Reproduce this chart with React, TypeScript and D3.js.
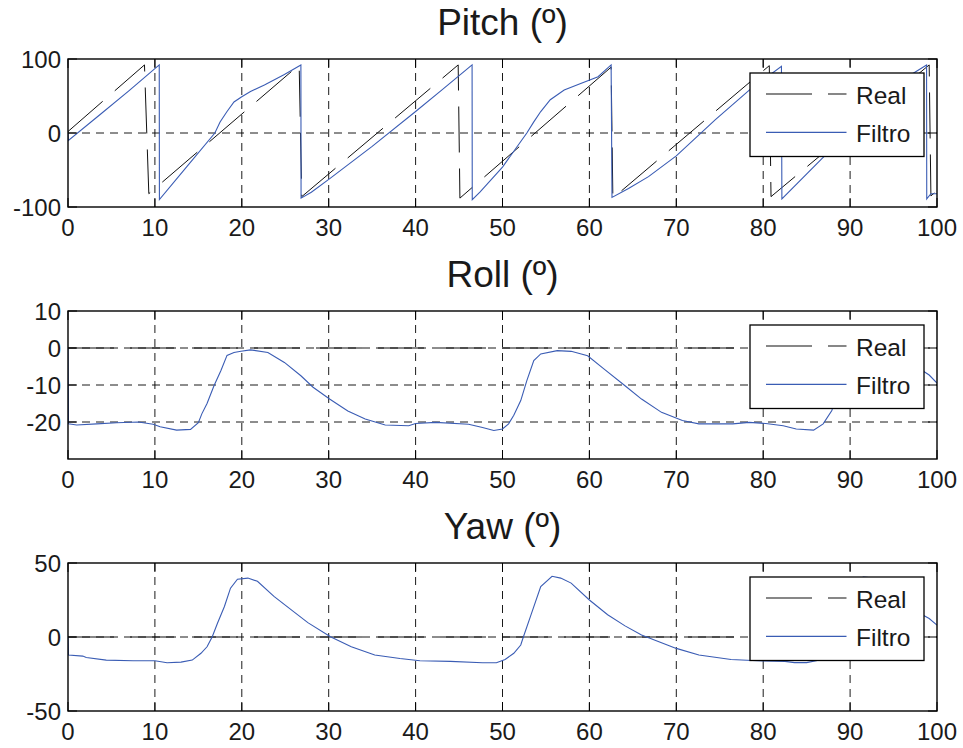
import * as d3 from 'd3';
import { useEffect, useRef } from 'react';

// x positions (s) / angle values
const xTicks = [0, 10, 20, 30, 40, 50, 60, 70, 80, 90, 100];

const pitchTicks = [-100, 0, 100];
const rollTicks = [-20, -10, 0, 10];
const yawTicks = [-50, 0, 50];

const pitchReal = [
  [0, 2], [8.8, 92], [9.3, -82], [26.6, 92], [26.9, -86], [44.9, 92], [45.1, -88],
  [62.5, 89], [62.7, -88], [80.7, 91], [80.9, -86], [99.1, 92], [99.3, -85], [100, -78],
];

const pitchFiltro = [
  [0, 0], [0.05, -10], [3.7, 25], [7, 57], [10.5, 92], [10.52, -90], [13.7, -45], [16.9, 0],
  [17.5, 15], [18.3, 29], [19.1, 42], [20, 49], [21, 56], [22.6, 65], [24.9, 79], [26.8, 92],
  [26.82, -88], [28, -80], [30.2, -61], [35, -18], [40, 29], [43, 58], [46.5, 92], [46.52, -90],
  [47.4, -80], [50, -46], [52.8, 0], [53.6, 15], [54.4, 29], [55.5, 45], [57.1, 58], [59, 67],
  [61, 76], [62.5, 92], [62.6, -87], [64.5, -75], [66.8, -59], [70, -31], [74.5, 18], [78.4, 58],
  [82.1, 90], [82.15, -89], [86.9, -33], [92, 25], [96.9, 78], [98.8, 92], [98.82, -89],
  [99.3, -82], [100, -82],
];

const rollReal = [[0, 0], [100, 0]];

const rollFiltro = [
  [0, 0], [0.05, -20.5], [1, -20.8], [3.3, -20.5], [5.6, -20.2], [8.1, -20], [9.8, -20.6],
  [10.6, -21.3], [12.5, -22.2], [14.1, -22], [15, -20.2], [15.4, -17.8], [16, -15], [16.8, -10.2],
  [17.6, -6.1], [18.3, -2], [19.1, -1.2], [19.9, -0.9], [21, -0.5], [23, -1.2], [24.9, -3.9],
  [26.8, -7.5], [28.2, -10.6], [30.1, -13.8], [32.2, -17], [34.2, -19.2], [36.5, -20.8],
  [39.2, -21], [40, -20.4], [42.3, -20.1], [46.1, -20.6], [47.7, -21.5], [49, -22.3], [50, -21.9],
  [50.7, -20.5], [51.3, -18.2], [52.1, -14.2], [52.8, -8.8], [53.6, -3.4], [54.4, -1.6],
  [56.3, -0.7], [57.9, -0.9], [59.8, -2.1], [61.7, -5.7], [64.1, -10.2], [66, -13.8],
  [68.3, -17.4], [70.7, -19.6], [72.6, -20.5], [76.5, -20.5], [78.4, -20.1], [80.3, -20.4],
  [82.3, -21], [83.8, -21.9], [85.8, -22.2], [86.9, -20.5], [87.9, -16.9], [88.6, -11],
  [89.4, -5], [90.3, -1.8], [92, -0.8], [93.8, -1], [95.7, -2.2], [97.6, -5], [99.1, -7.3],
  [100, -9.5],
];

const yawReal = [[0, 0], [100, 0]];

const yawFiltro = [
  [0, 0], [0.05, -12.2], [1.7, -12.9], [2.1, -13.8], [4.4, -15.6], [7.5, -16], [10, -16],
  [11.4, -17.4], [13, -17], [14.3, -15.6], [15.3, -11], [16, -6.6], [16.6, 0.2], [17.2, 9.3],
  [18, 20.6], [18.7, 33], [19.5, 39], [20.7, 39.8], [21.8, 37.6], [23.7, 27.4], [25.7, 18.3],
  [27.6, 9.7], [30.2, 0.2], [32.6, -6.6], [35.3, -12.2], [38.2, -14.5], [40.5, -16], [44, -16.5],
  [47.7, -17.4], [49.3, -17.4], [50.3, -15.2], [51.3, -11], [52.1, -5.4], [52.4, 0], [53.2, 13.6],
  [54.4, 34], [55.7, 41], [56.7, 39.8], [57.9, 36.4], [60, 25], [62.1, 15], [64.1, 7.5],
  [66, 1.4], [68, -3.2], [70, -7.7], [72.6, -12.2], [76.3, -15.2], [80, -16.2], [82.5, -16.5],
  [83.6, -17.3], [85, -17.3], [86.5, -15.5], [87.5, -11], [88.3, -3], [89, 8], [89.8, 22],
  [90.6, 35], [91.5, 40.5], [92.5, 40], [94, 34], [96, 24], [98, 16], [99.1, 12.5], [100, 8],
];

const legendLabels = ['Real', 'Filtro'];

const panels = [
  { id: 'pitch', title: 'Pitch (º)', top: 59, domain: [-100, 100], ticks: pitchTicks, real: pitchReal, filtro: pitchFiltro },
  { id: 'roll', title: 'Roll (º)', top: 311, domain: [-30, 10], ticks: rollTicks, real: rollReal, filtro: rollFiltro },
  { id: 'yaw', title: 'Yaw (º)', top: 563, domain: [-50, 50], ticks: yawTicks, real: yawReal, filtro: yawFiltro },
];

const W = 963;
const H = 748;
const LEFT = 68;
const RIGHT = 937;
const PANEL_H = 148;
const FONT = '"Liberation Sans", Arial, Helvetica, sans-serif';
const BLUE = '#3a5cb4';
const REAL_DASH = '46,16';
const GRID_DASH = '8,6';
const TICK_LEN = 9;

export default function App() {
  const ref = useRef(null);

  useEffect(() => {
    document.body.style.margin = '0';
    const svg = d3.select(ref.current);
    svg.selectAll('*').remove();
    svg.attr('width', W).attr('height', H).attr('viewBox', `0 0 ${W} ${H}`)
      .style('display', 'block').style('background', '#fff').style('font-family', FONT);

    const x = d3.scaleLinear().domain([0, 100]).range([LEFT, RIGHT]);

    panels.forEach((p) => {
      const top = p.top;
      const bottom = top + PANEL_H;
      const y = d3.scaleLinear().domain(p.domain).range([bottom, top]);
      const g = svg.append('g');

      const clipId = `clip-${p.id}`;
      g.append('clipPath').attr('id', clipId)
        .append('rect').attr('x', LEFT).attr('y', top).attr('width', RIGHT - LEFT).attr('height', PANEL_H);

      g.append('rect').attr('x', LEFT).attr('y', top).attr('width', RIGHT - LEFT).attr('height', PANEL_H)
        .attr('fill', '#fff');

      // grid
      g.selectAll('line.vgrid').data(xTicks.slice(1, -1)).enter().append('line')
        .attr('x1', (d) => x(d)).attr('x2', (d) => x(d)).attr('y1', top).attr('y2', bottom)
        .attr('stroke', '#000').attr('stroke-width', 0.9).attr('stroke-dasharray', GRID_DASH);
      g.selectAll('line.hgrid').data(p.ticks.filter((t) => y(t) > top + 1 && y(t) < bottom - 1)).enter().append('line')
        .attr('x1', LEFT).attr('x2', RIGHT).attr('y1', (d) => y(d)).attr('y2', (d) => y(d))
        .attr('stroke', '#000').attr('stroke-width', 0.9).attr('stroke-dasharray', GRID_DASH);

      const line = d3.line().x((d) => x(d[0])).y((d) => y(d[1]));
      const lines = g.append('g').attr('clip-path', `url(#${clipId})`);
      lines.append('path').attr('d', line(p.real)).attr('fill', 'none')
        .attr('stroke', '#111').attr('stroke-width', 1).attr('stroke-dasharray', REAL_DASH);
      lines.append('path').attr('d', line(p.filtro)).attr('fill', 'none')
        .attr('stroke', BLUE).attr('stroke-width', 1.1);

      // ticks inside the box
      xTicks.forEach((t) => {
        g.append('line').attr('x1', x(t)).attr('x2', x(t)).attr('y1', bottom).attr('y2', bottom - TICK_LEN)
          .attr('stroke', '#000').attr('stroke-width', 1);
        g.append('line').attr('x1', x(t)).attr('x2', x(t)).attr('y1', top).attr('y2', top + TICK_LEN)
          .attr('stroke', '#000').attr('stroke-width', 1);
      });
      p.ticks.forEach((t) => {
        g.append('line').attr('x1', LEFT).attr('x2', LEFT + TICK_LEN).attr('y1', y(t)).attr('y2', y(t))
          .attr('stroke', '#000').attr('stroke-width', 1);
        g.append('line').attr('x1', RIGHT).attr('x2', RIGHT - TICK_LEN).attr('y1', y(t)).attr('y2', y(t))
          .attr('stroke', '#000').attr('stroke-width', 1);
      });

      g.append('rect').attr('x', LEFT).attr('y', top).attr('width', RIGHT - LEFT).attr('height', PANEL_H)
        .attr('fill', 'none').attr('stroke', '#000').attr('stroke-width', 1.4);

      // tick labels
      g.selectAll('text.xt').data(xTicks).enter().append('text')
        .attr('x', (d) => x(d)).attr('y', bottom + 29).attr('text-anchor', 'middle')
        .style('font-size', '24px').style('fill', '#1a1a1a').text((d) => d);
      g.selectAll('text.yt').data(p.ticks).enter().append('text')
        .attr('x', LEFT - 7).attr('y', (d) => y(d) + 8.5).attr('text-anchor', 'end')
        .style('font-size', '24px').style('fill', '#1a1a1a').text((d) => d);

      g.append('text').attr('x', (LEFT + RIGHT) / 2).attr('y', top - 24).attr('text-anchor', 'middle')
        .style('font-size', '37px').style('fill', '#1a1a1a').text(p.title);

      // legend
      const lg = g.append('g').attr('transform', `translate(750,${top + 14})`);
      lg.append('rect').attr('width', 174).attr('height', 83.5).attr('fill', '#fff')
        .attr('stroke', '#000').attr('stroke-width', 1.3);
      legendLabels.forEach((label, i) => {
        const ly = i === 0 ? 21 : 59.4;
        lg.append('line').attr('x1', 16).attr('x2', 96.5).attr('y1', ly).attr('y2', ly)
          .attr('stroke', i === 0 ? '#111' : BLUE).attr('stroke-width', 1.1)
          .attr('stroke-dasharray', i === 0 ? REAL_DASH : null);
        lg.append('text').attr('x', 106).attr('y', ly + 10)
          .style('font-size', '24.5px').style('fill', '#1a1a1a').text(label);
      });
    });
  }, []);

  return <svg ref={ref} />;
}
